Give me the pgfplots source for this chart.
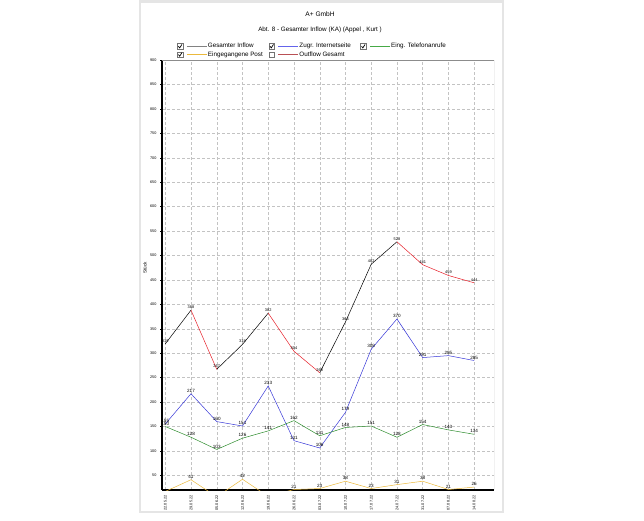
\documentclass[border=0pt]{standalone}
\usepackage{fontspec}
\setmainfont{Liberation Sans}
\usepackage{pgfplots}
\pgfplotsset{compat=1.18}

\definecolor{cInflow}{RGB}{130,130,130}
\definecolor{cRed}{RGB}{230,30,40}
\definecolor{cBlue}{RGB}{55,55,215}
\definecolor{cGreen}{RGB}{45,140,45}
\definecolor{cYellow}{RGB}{235,185,60}
\definecolor{cOut}{RGB}{185,80,85}
\definecolor{cGrid}{RGB}{195,195,195}
\definecolor{lBlue}{RGB}{100,100,235}
\definecolor{lGreen}{RGB}{70,170,70}

\pgfplotsset{
  chk/.style={legend image code/.code={
      \draw[black!55,fill=white,line width=0.35pt] (0pt,-2.8pt) rectangle (5.6pt,2.8pt);
      \draw[black,line width=0.7pt] (1.1pt,0.1pt) -- (2.4pt,-1.5pt) -- (4.6pt,2pt);
      \draw[draw=#1,line width=0.6pt] (9.5pt,0pt) -- (29.5pt,0pt);}},
  unchk/.style={legend image code/.code={
      \draw[black!55,fill=white,line width=0.35pt] (0pt,-2.8pt) rectangle (5.6pt,2.8pt);
      \draw[draw=#1,line width=0.6pt] (9.5pt,0pt) -- (29.5pt,0pt);}},
  lbl/.style={draw=none, nodes near coords, every node near coord/.style={font=\fontsize{#1}{5}\selectfont, text=black, anchor=center, yshift=3pt}},
}

\begin{document}
\begin{tikzpicture}
\path[use as bounding box] (0pt,0pt) rectangle (644pt,520pt);
\draw[black!10, line width=2.5pt] (140pt,8pt) rectangle (503pt,518.5pt);
\node[font=\fontsize{6.6}{8}\selectfont] at (320pt,506pt) {A+ GmbH};
\node[font=\fontsize{6.3}{8}\selectfont] at (320pt,490pt) {Abt. 8 - Gesamter Inflow (KA) (Appel , Kurt )};
\begin{axis}[
  at={(162pt,30pt)}, anchor=south west,
  scale only axis, width=332pt, height=430pt,
  xmin=-0.126, xmax=12.77, ymin=20, ymax=900,
  axis lines=left,
  axis line style={-, black, line width=1.2pt},
  xtick={0,...,12},
  xticklabels={22.05.22,29.05.22,05.06.22,12.06.22,19.06.22,26.06.22,03.07.22,10.07.22,17.07.22,24.07.22,31.07.22,07.08.22,14.08.22},
  x tick label style={rotate=90, anchor=east, font=\fontsize{3.8}{4}\selectfont},
  xtick style={draw=none},
  ytick={50,100,...,900},
  y tick label style={font=\fontsize{3.8}{4}\selectfont},
  ytick style={black, line width=0.4pt},
  tick align=outside, major tick length=2pt,
  /pgf/number format/assume math mode=true,
  grid=major,
  major grid style={cGrid, line width=0.4pt, dash pattern=on 3pt off 2pt},
  ylabel={Stück},
  ylabel style={font=\fontsize{4.6}{5}\selectfont, at={(axis description cs:-0.051,0.516)}, anchor=center},
  legend columns=3,
  legend style={at={(axis description cs:0.045,1.041)}, anchor=north west, draw=none, fill=none,
    inner sep=0pt, row sep=0.6pt, column sep=0pt,
    nodes={inner sep=0.8pt, font=\fontsize{6.3}{7}\selectfont, anchor=west}},
  legend cell align=left,
]
% Gesamter Inflow: steigende Abschnitte schwarz, fallende rot
\addplot[black, line width=0.5pt, forget plot] coordinates {(0,319) (1,388)};
\addplot[black, line width=0.5pt, forget plot] coordinates {(2,267) (3,318) (4,382)};
\addplot[black, line width=0.5pt, forget plot] coordinates {(6,260) (7,364) (8,482) (9,528)};
\addplot[cRed, line width=0.5pt, forget plot] coordinates {(1,388) (2,267)};
\addplot[cRed, line width=0.5pt, forget plot] coordinates {(4,382) (5,304) (6,260)};
\addplot[cRed, line width=0.5pt, forget plot] coordinates {(9,528) (10,481) (11,459) (12,444)};
\addplot[lbl=3.9, forget plot] coordinates {
  (0,319) (1,388) (2,267) (3,318) (4,382) (5,304) (6,260) (7,364) (8,482) (9,528) (10,481) (11,459) (12,444)};
% Zugr. Internetseite
\addplot[cBlue, line width=0.5pt, forget plot] coordinates {
  (0,155) (1,217) (2,160) (3,151) (4,233) (5,121) (6,106) (7,179) (8,308) (9,370) (10,291) (11,295) (12,285)};
\addplot[lbl=4.6, forget plot] coordinates {
  (0,155) (1,217) (2,160) (3,151) (4,233) (5,121) (6,106) (7,179) (8,308) (9,370) (10,291) (11,295) (12,285)};
% Eing. Telefonanrufe
\addplot[cGreen, line width=0.5pt, forget plot] coordinates {
  (0,150) (1,128) (2,103) (3,126) (4,141) (5,162) (6,131) (7,148) (8,151) (9,128) (10,154) (11,143) (12,134)};
\addplot[lbl=4.6, forget plot] coordinates {
  (0,150) (1,128) (2,103) (3,126) (4,141) (5,162) (6,131) (7,148) (8,151) (9,128) (10,154) (11,143) (12,134)};
% Eingegangene Post
\addplot[cYellow, line width=0.5pt, forget plot] coordinates {
  (0,17) (1,41) (2,6) (3,42) (4,7) (5,21) (6,23) (7,38) (8,23) (9,31) (10,38) (11,21) (12,26)};
\addplot[lbl=4.6, forget plot] coordinates {
  (0,17) (1,41) (3,42) (5,21) (6,23) (7,38) (8,23) (9,31) (10,38) (11,21) (12,26)};

\addlegendimage{chk=cInflow}
\addlegendentry{\makebox[60pt][l]{Gesamter Inflow}}
\addlegendimage{chk=lBlue}
\addlegendentry{\makebox[60pt][l]{Zugr. Internetseite}}
\addlegendimage{chk=lGreen}
\addlegendentry{\makebox[60pt][l]{Eing. Telefonanrufe}}
\addlegendimage{chk=cYellow}
\addlegendentry{\makebox[60pt][l]{Eingegangene Post}}
\addlegendimage{unchk=cOut}
\addlegendentry{\makebox[60pt][l]{Outflow Gesamt}}

\draw[black!45, line width=0.6pt] (rel axis cs:0,1) -- (rel axis cs:1,1) -- (rel axis cs:1,0);
\end{axis}
\end{tikzpicture}
\end{document}
